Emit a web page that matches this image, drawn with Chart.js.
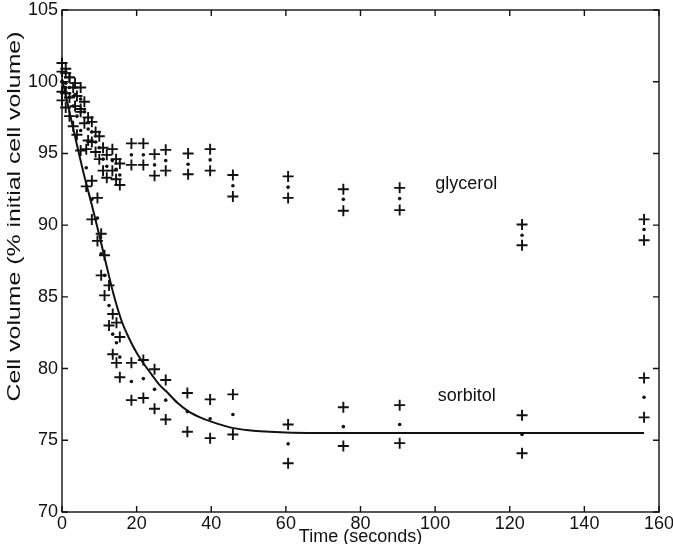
<!DOCTYPE html>
<html>
<head>
<meta charset="utf-8">
<title>Cell volume</title>
<script src="https://cdn.jsdelivr.net/npm/chart.js@4.4.1/dist/chart.umd.min.js"></script>
<style>
  html, body { margin: 0; padding: 0; background: #fff; }
  #wrap { width: 673px; height: 544px; }
</style>
</head>
<body>
<div id="wrap"><canvas id="chart" width="673" height="544"></canvas></div>
<script>
// glycerol: time (s), upper bar, mean, lower bar (% initial cell volume)
const glyTime = [0, 1, 2, 3.5, 5, 6, 7, 8, 9, 10, 11, 12, 13.5, 14.5, 15.5, 18.6, 21.8, 24.8, 27.8, 33.8, 39.7, 45.8, 60.6, 75.4, 90.5, 123.3, 156];
const glyHigh = [100.7, 100.6, 100.3, 99.9, 99.6, 98.6, 97.5, 97.2, 96.5, 96.2, 95.4, 94.9, 95.3, 94.6, 94.3, 95.7, 95.7, 94.95, 95.25, 95.0, 95.3, 93.5, 93.4, 92.5, 92.6, 90.05, 90.4];
const glyMean = [100.0, 99.9, 99.6, 99.1, 98.8, 97.9, 96.7, 96.5, 95.8, 95.4, 94.6, 94.1, 94.5, 93.9, 93.5, 94.9, 94.9, 94.2, 94.5, 94.25, 94.55, 92.75, 92.65, 91.8, 91.85, 89.3, 89.7];
const glyLow  = [99.3, 99.2, 98.9, 98.3, 98.1, 97.1, 95.9, 95.8, 95.1, 94.6, 93.8, 93.3, 93.8, 93.2, 92.8, 94.2, 94.2, 93.45, 93.8, 93.55, 93.8, 92.0, 91.9, 91.0, 91.05, 88.6, 88.95];

// sorbitol
const sorTime = [0, 1, 2, 3, 4, 5, 6.5, 8, 9.5, 10.5, 11.4, 12.6, 13.6, 14.6, 15.5, 18.6, 21.8, 24.8, 27.8, 33.6, 39.7, 45.8, 60.6, 75.4, 90.5, 123.3, 156];
const sorHigh = [101.3, 100.9, 100.3, 99.6, 99.0, 97.9, 95.3, 93.1, 91.9, 89.4, 87.9, 85.8, 83.8, 83.2, 82.2, 80.4, 80.6, 79.95, 79.2, 78.3, 77.85, 78.2, 76.1, 77.3, 77.45, 76.75, 79.35];
const sorMean = [100.0, 99.6, 98.9, 98.3, 97.6, 96.6, 94.0, 91.8, 90.5, 88.0, 86.5, 84.4, 82.4, 81.8, 80.8, 79.1, 79.3, 78.55, 77.8, 77.0, 76.5, 76.8, 74.75, 75.95, 76.1, 75.4, 78.0];
const sorLow  = [98.7, 98.2, 97.6, 96.9, 96.3, 95.2, 92.7, 90.4, 88.9, 86.5, 85.1, 83.0, 81.0, 80.4, 79.4, 77.8, 77.95, 77.2, 76.45, 75.6, 75.15, 75.4, 73.4, 74.6, 74.8, 74.1, 76.6];

// fitted curve (sorbitol)
const fitTime = [0, 2, 4, 6, 8, 10, 12, 14, 16, 18, 20, 22, 24, 26, 28, 31, 34, 37, 40, 45, 50, 60, 80, 100, 130, 156];
const fitVol  = [100.2, 97.9, 95.6, 93.4, 91.4, 89.3, 87.1, 85.0, 83.3, 82.1, 81.1, 80.3, 79.6, 78.9, 78.4, 77.6, 77.0, 76.6, 76.3, 75.9, 75.7, 75.55, 75.5, 75.5, 75.5, 75.5];

const curveNames = ['glycerol', 'sorbitol'];
const yTitle = 'Cell volume (% initial cell volume)';

const FONT = '"Liberation Sans", Arial, Helvetica, sans-serif';
const INK = '#111';

const pts = (xs, ys) => xs.map((x, i) => ({ x, y: ys[i] }));

const plus = data => ({
  data, showLine: false, clip: 12,
  pointStyle: 'cross', pointRadius: 5.5, borderColor: INK, borderWidth: 1.9
});
const dot = data => ({
  data, showLine: false, clip: 12,
  pointStyle: 'circle', pointRadius: 1.8, backgroundColor: INK, borderWidth: 0
});

// box with inward ticks, curve names and the (tall) y title
const framePlugin = {
  id: 'frame',
  afterDatasetsDraw(chart) {
    const { ctx, chartArea: a, scales: { x, y } } = chart;
    ctx.save();
    ctx.strokeStyle = INK;
    ctx.lineWidth = 1.4;
    ctx.strokeRect(a.left, a.top, a.right - a.left, a.bottom - a.top);
    ctx.beginPath();
    x.ticks.forEach(t => {
      const px = x.getPixelForValue(t.value);
      ctx.moveTo(px, a.bottom); ctx.lineTo(px, a.bottom - 6);
      ctx.moveTo(px, a.top); ctx.lineTo(px, a.top + 6);
    });
    y.ticks.forEach(t => {
      const py = y.getPixelForValue(t.value);
      ctx.moveTo(a.left, py); ctx.lineTo(a.left + 6, py);
      ctx.moveTo(a.right, py); ctx.lineTo(a.right - 6, py);
    });
    ctx.stroke();

    ctx.font = '18px ' + FONT;
    ctx.fillStyle = INK;
    ctx.textAlign = 'left';
    ctx.textBaseline = 'middle';
    ctx.fillText(curveNames[0], x.getPixelForValue(100), y.getPixelForValue(92.9));
    ctx.fillText(curveNames[1], x.getPixelForValue(100.7), y.getPixelForValue(78.1));

    // y title: scanned figure is stretched vertically
    ctx.translate(15, y.getPixelForValue(90.6));
    ctx.rotate(-Math.PI / 2);
    ctx.scale(1.38, 1);
    ctx.textAlign = 'center';
    ctx.fillText(yTitle, 0, 0);
    ctx.restore();
  }
};

new Chart(document.getElementById('chart'), {
  type: 'scatter',
  data: {
    datasets: [
      {
        data: pts(fitTime, fitVol), showLine: true, clip: 12,
        borderColor: INK, borderWidth: 2, pointRadius: 0,
        cubicInterpolationMode: 'monotone'
      },
      plus(pts(glyTime, glyHigh)), dot(pts(glyTime, glyMean)), plus(pts(glyTime, glyLow)),
      plus(pts(sorTime, sorHigh)), dot(pts(sorTime, sorMean)), plus(pts(sorTime, sorLow))
    ]
  },
  options: {
    responsive: false,
    animation: false,
    devicePixelRatio: 1,
    layout: { padding: { top: 10, right: 14, left: 0, bottom: 0 } },
    plugins: { legend: { display: false }, tooltip: { enabled: false } },
    scales: {
      x: {
        type: 'linear', min: 0, max: 160,
        grid: { display: false, drawTicks: false }, border: { display: false },
        ticks: { stepSize: 20, color: INK, font: { family: FONT, size: 18 }, padding: 1, maxRotation: 0 },
        title: { display: true, text: 'Time (seconds)', color: INK, font: { family: FONT, size: 18, lineHeight: 0.8 }, padding: 0 },
        afterFit(s) { s.height = 32; s.paddingLeft = 0; s.paddingRight = 0; }
      },
      y: {
        type: 'linear', min: 70, max: 105,
        grid: { display: false, drawTicks: false }, border: { display: false },
        ticks: { stepSize: 5, color: INK, font: { family: FONT, size: 18 }, padding: 4 },
        title: { display: false },
        afterFit(s) { s.width = 62; s.paddingTop = 0; s.paddingBottom = 0; }
      }
    }
  },
  plugins: [framePlugin]
});
</script>
</body>
</html>
